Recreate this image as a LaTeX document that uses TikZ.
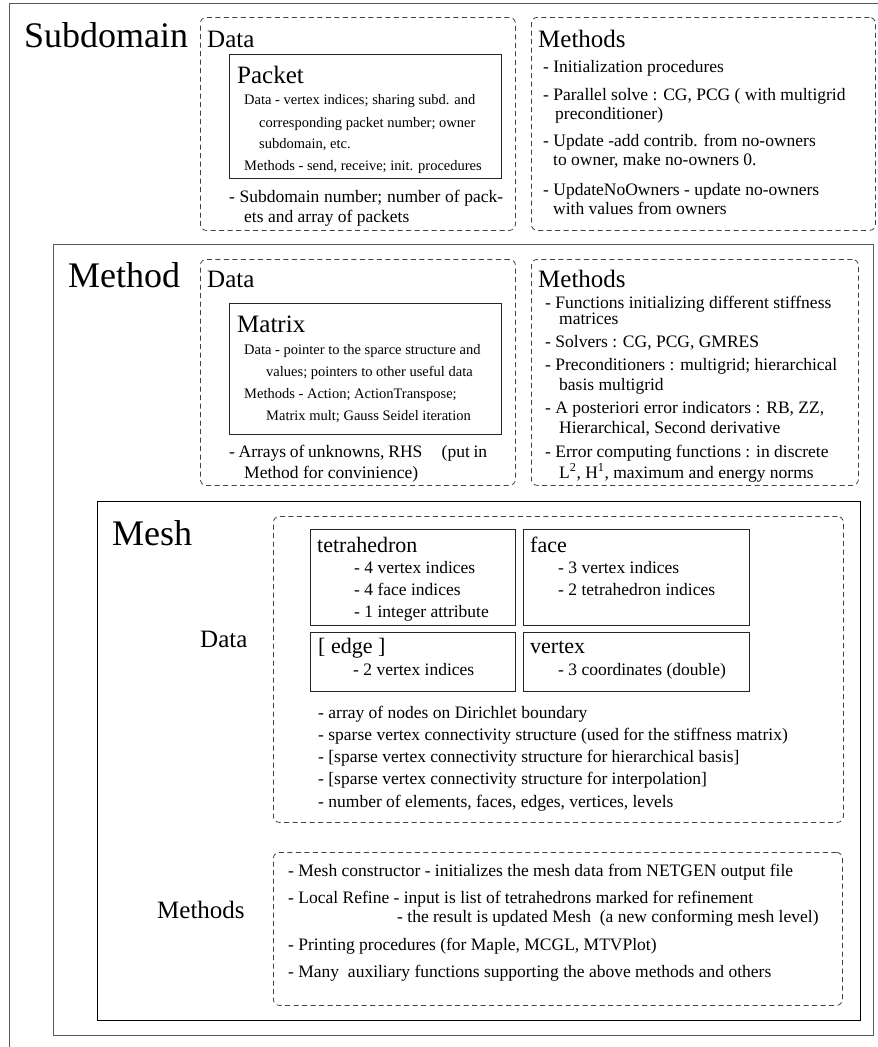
\documentclass[tikz,border=0pt]{standalone}
\usepackage{fontspec}
\setmainfont{Liberation Serif}
\newcommand{\fbig}{\fontsize{36}{40}\selectfont}
\newcommand{\flbl}{\fontsize{25}{28}\selectfont}
\newcommand{\fcls}{\fontsize{22}{25}\selectfont}
\newcommand{\fbody}{\fontsize{17.5}{20}\selectfont}
\newcommand{\fsmall}{\fontsize{14.5}{17}\selectfont}
\tikzset{
  txt/.style={anchor=base west, inner sep=0pt, font=\fbody},
  bigl/.style={txt, font=\fbig},
  lbl/.style={txt, font=\flbl},
  clsl/.style={txt, font=\fcls},
  smallt/.style={txt, font=\fsmall},
  frame/.style={draw=black!65, line width=1.1pt, anchor=north west, inner sep=0pt},
  solidbox/.style={draw=black!85, line width=1pt, anchor=north west, inner sep=0pt},
  dashbox/.style={draw=black!75, line width=0.8pt, dash pattern=on 5pt off 3.5pt, rounded corners=6pt, anchor=north west, inner sep=0pt},
}
\begin{document}
\begin{tikzpicture}[x=1pt,y=-1pt]
\clip (0,0) rectangle (878,1047);
\fill[white] (0,0) rectangle (878,1047);
% outer frame (extends beyond the picture)
\node[frame, minimum width=890pt, minimum height=1070pt] (outer) at (9,3) {};
% ---------------- Subdomain ----------------
\node[bigl] (tsub) at (24,47) {Subdomain};
\node[dashbox, minimum width=315pt, minimum height=213pt] (subdata) at (200,17) {};
\node[lbl] (tsubdata) at (207,47) {Data};
\node[solidbox, minimum width=272pt, minimum height=124pt] (packet) at (229,54) {};
\node[lbl] (tpacket) at (237,83) {Packet};
\node[smallt] (p1) at (244,104) {Data - vertex indices; sharing subd. and};
\node[smallt] (p2) at (259,127) {corresponding packet number; owner};
\node[smallt] (p3) at (259,148) {subdomain, etc.};
\node[smallt] (p4) at (244,170) {Methods - send, receive; init. procedures};
\node[txt] (sd1) at (229,202) {\makebox[274pt][s]{- Subdomain number; number of pack-}};
\node[txt] (sd2) at (244,222) {ets and array of packets};
\node[dashbox, minimum width=344pt, minimum height=213pt] (submeth) at (531,17) {};
\node[lbl] (tsubmeth) at (538,47) {Methods};
\node[txt] (sm1) at (543,72) {- Initialization procedures};
\node[txt] (sm2) at (543,100) {- Parallel solve : CG, PCG ( with multigrid};
\node[txt] (sm3) at (555,119) {preconditioner)};
\node[txt] (sm4) at (543,146) {- Update -add contrib. from no-owners};
\node[txt] (sm5) at (553,165) {to owner, make no-owners 0.};
\node[txt] (sm6) at (543,195) {- UpdateNoOwners - update no-owners};
\node[txt] (sm7) at (553,214) {with values from owners};
% ---------------- Method ----------------
\node[frame, minimum width=820pt, minimum height=791pt] (method) at (53,244) {};
\node[bigl] (tmethod) at (68,287) {Method};
\node[dashbox, minimum width=315pt, minimum height=226pt] (mdata) at (200,259) {};
\node[lbl] (tmdata) at (207,287) {Data};
\node[solidbox, minimum width=272pt, minimum height=131pt] (matrix) at (229,303) {};
\node[lbl] (tmatrix) at (237,332) {Matrix};
\node[smallt] (x1) at (244,354) {Data - pointer to the sparce structure and};
\node[smallt] (x2) at (266,376) {values; pointers to other useful data};
\node[smallt] (x3) at (244,398) {Methods - Action; ActionTranspose;};
\node[smallt] (x4) at (266,420) {Matrix mult; Gauss Seidel iteration};
\node[txt] (md1) at (229,457) {\makebox[258pt][s]{- Arrays of unknowns, RHS \hspace{12pt} (put in}};
\node[txt] (md2) at (244,478) {Method for convinience)};
\node[dashbox, minimum width=327pt, minimum height=226pt] (mmeth) at (531,259) {};
\node[lbl] (tmmeth) at (538,287) {Methods};
\node[txt] (mm1) at (545,308) {- Functions initializing different stiffness};
\node[txt] (mm2) at (559,324) {matrices};
\node[txt] (mm3) at (545,347) {- Solvers : CG, PCG, GMRES};
\node[txt] (mm4) at (545,370) {- Preconditioners : multigrid; hierarchical};
\node[txt] (mm5) at (559,390) {basis multigrid};
\node[txt] (mm6) at (545,413) {- A posteriori error indicators : RB, ZZ,};
\node[txt] (mm7) at (559,433) {Hierarchical, Second derivative};
\node[txt] (mm8) at (545,457) {- Error computing functions : in discrete};
\node[txt] (mm9) at (559,478) {L\textsuperscript{2}, H\textsuperscript{1}, maximum and energy norms};
% ---------------- Mesh ----------------
\node[solidbox, draw=black, minimum width=763pt, minimum height=519pt] (mesh) at (97,501) {};
\node[bigl] (tmesh) at (112,545) {Mesh};
\node[dashbox, minimum width=570pt, minimum height=306pt] (meshdata) at (273,516) {};
\node[lbl] (tmeshdata) at (200,647) {Data};
\node[solidbox, minimum width=205pt, minimum height=96pt] (tetra) at (310,529) {};
\node[clsl] (ttetra) at (317,552) {tetrahedron};
\node[txt] (t1) at (354,573) {- 4 vertex indices};
\node[txt] (t2) at (354,595) {- 4 face indices};
\node[txt] (t3) at (354,617) {- 1 integer attribute};
\node[solidbox, minimum width=226pt, minimum height=96pt] (face) at (523,529) {};
\node[clsl] (tface) at (530,552) {face};
\node[txt] (f1) at (558,573) {- 3 vertex indices};
\node[txt] (f2) at (558,595) {- 2 tetrahedron indices};
\node[solidbox, minimum width=205pt, minimum height=59pt] (edge) at (310,632) {};
\node[clsl] (tedge) at (318,653) {[ edge ]};
\node[txt] (e1) at (353,675) {- 2 vertex indices};
\node[solidbox, minimum width=226pt, minimum height=59pt] (vertex) at (523,632) {};
\node[clsl] (tvertex) at (530,653) {vertex};
\node[txt] (v1) at (558,675) {- 3 coordinates (double)};
\node[txt] (l1) at (318,718) {- array of nodes on Dirichlet boundary};
\node[txt] (l2) at (318,740) {- sparse vertex connectivity structure (used for the stiffness matrix)};
\node[txt] (l3) at (318,762) {- [sparse vertex connectivity structure for hierarchical basis]};
\node[txt] (l4) at (318,784) {- [sparse vertex connectivity structure for interpolation]};
\node[txt] (l5) at (318,807) {- number of elements, faces, edges, vertices, levels};
\node[dashbox, minimum width=569pt, minimum height=153pt] (meshmeth) at (273,852) {};
\node[lbl] (tmeshmeth) at (157,918) {Methods};
\node[txt] (k1) at (288,876) {- Mesh constructor - initializes the mesh data from NETGEN output file};
\node[txt] (k2) at (288,903) {- Local Refine - input is list of tetrahedrons marked for refinement};
\node[txt] (k3) at (397,922) {- the result is updated Mesh \ (a new conforming mesh level)};
\node[txt] (k4) at (288,950) {- Printing procedures (for Maple, MCGL, MTVPlot)};
\node[txt] (k5) at (288,977) {- Many \ auxiliary functions supporting the above methods and others};
\end{tikzpicture}
\end{document}
